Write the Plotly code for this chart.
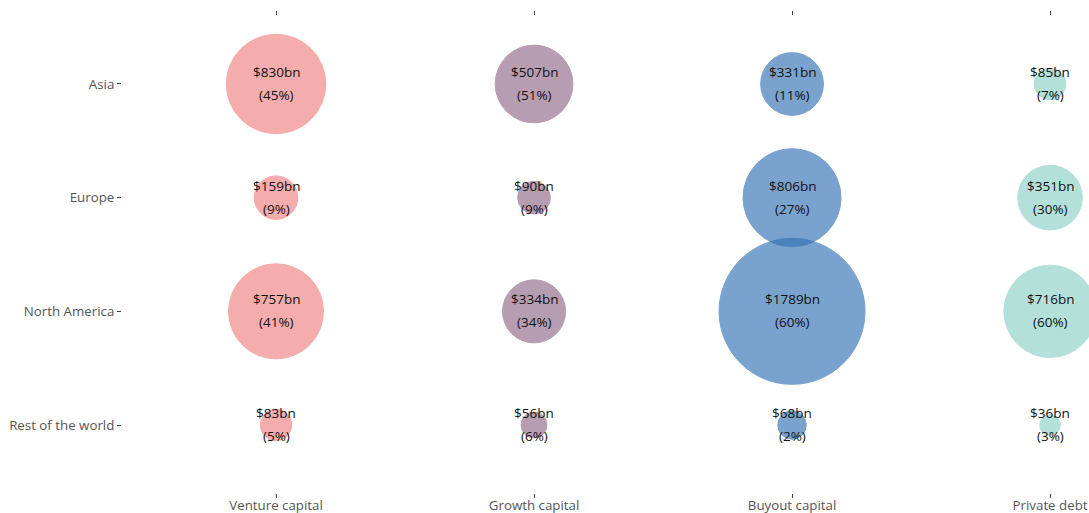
import plotly.graph_objects as go

categories = ["Venture capital", "Growth capital", "Buyout capital", "Private debt"]
regions = ["Asia", "Europe", "North America", "Rest of the world"]

venture_bn = [830, 159, 757, 83]
venture_pct = [45, 9, 41, 5]
growth_bn = [507, 90, 334, 56]
growth_pct = [51, 9, 34, 6]
buyout_bn = [331, 806, 1789, 68]
buyout_pct = [11, 27, 60, 2]
debt_bn = [85, 351, 716, 36]
debt_pct = [7, 30, 60, 3]

colors = ["#f08080", "#926a89", "#3271b5", "#8cd1c6"]

series = [
    (categories[0], venture_bn, venture_pct, colors[0]),
    (categories[1], growth_bn, growth_pct, colors[1]),
    (categories[2], buyout_bn, buyout_pct, colors[2]),
    (categories[3], debt_bn, debt_pct, colors[3]),
]

max_val = max(max(venture_bn), max(growth_bn), max(buyout_bn), max(debt_bn))
max_diam = 146
sizeref = 2.0 * max_val / (max_diam ** 2)

fig = go.Figure()
annotations = []
for cat, vals, pcts, col in series:
    fig.add_trace(go.Scatter(
        x=[cat] * len(regions),
        y=regions,
        mode="markers",
        marker=dict(size=vals, sizemode="area", sizeref=sizeref,
                    color=col, opacity=0.65,
                    line=dict(width=1, color=col)),
        hoverinfo="skip",
        showlegend=False,
        cliponaxis=True,
    ))
    for r, v, p in zip(regions, vals, pcts):
        annotations.append(dict(x=cat, y=r, text=f"${v}bn", showarrow=False,
                                yshift=12, font=dict(size=13.5, color="#111")))
        annotations.append(dict(x=cat, y=r, text=f"({p}%)", showarrow=False,
                                yshift=-11, font=dict(size=13.5, color="#111")))

fig.update_layout(
    width=1089, height=513,
    margin=dict(l=122, r=0, t=16, b=20),
    paper_bgcolor="white", plot_bgcolor="white",
    font=dict(family="Open Sans, sans-serif", size=13, color="#555"),
    annotations=annotations,
    showlegend=False,
)
fig.update_xaxes(
    type="category", categoryorder="array", categoryarray=categories,
    range=[-0.597, 3.151], showgrid=False, zeroline=False, showline=False,
    ticks="outside", ticklen=4, tickwidth=1, tickcolor="#444", mirror="ticks",
    tickfont=dict(size=13.3, color="#555"), automargin=False,
    ticklabelstandoff=-4,
)
fig.update_yaxes(
    type="category", categoryorder="array", categoryarray=regions,
    range=[3.598, -0.598], showgrid=False, zeroline=False, showline=False,
    ticks="outside", ticklen=4, tickwidth=1, tickcolor="#444",
    tickfont=dict(size=13.3, color="#555"), automargin=False,
)

fig.write_html(
    "out.html",
    config={"displayModeBar": False},
    post_script="document.body.style.margin='0';document.body.style.padding='0';"
                "document.body.style.overflow='hidden';"
                "document.documentElement.style.overflow='hidden';",
)
